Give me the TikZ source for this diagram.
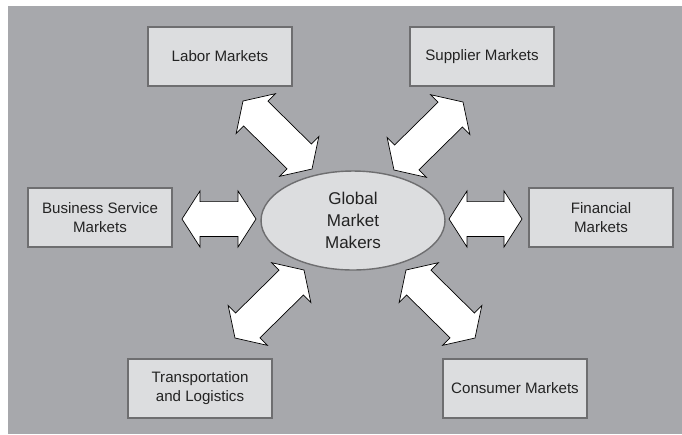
\documentclass[tikz,border=0pt]{standalone}
\usepackage{fontspec}
\setmainfont{Liberation Sans}
\usetikzlibrary{calc,shapes.geometric}
\definecolor{bggray}{RGB}{167,168,172}
\definecolor{boxgray}{RGB}{220,221,223}
\definecolor{edgegray}{RGB}{110,110,112}
\definecolor{txtgray}{RGB}{35,35,35}
\newcommand{\arrhead}{10.2pt}
\newcommand{\arrwing}{15.9pt}
\newcommand{\arrshaft}{9.9pt}
\newcommand{\dblarrow}[2]{%
  \draw[blockarrow] (#1)
    -- ($(#1)!\arrhead!(#2)!\arrwing!90:(#2)$)
    -- ($(#1)!\arrhead!(#2)!\arrshaft!90:(#2)$)
    -- ($(#2)!\arrhead!(#1)!\arrshaft!-90:(#1)$)
    -- ($(#2)!\arrhead!(#1)!\arrwing!-90:(#1)$)
    -- (#2)
    -- ($(#2)!\arrhead!(#1)!\arrwing!90:(#1)$)
    -- ($(#2)!\arrhead!(#1)!\arrshaft!90:(#1)$)
    -- ($(#1)!\arrhead!(#2)!\arrshaft!-90:(#2)$)
    -- ($(#1)!\arrhead!(#2)!\arrwing!-90:(#2)$)
    -- cycle;}

\begin{document}
\begin{tikzpicture}[x=0.02cm,y=-0.02cm,
    mktbox/.style={draw=edgegray, line width=0.8pt, fill=boxgray, text=txtgray,
      minimum width=2.88cm, minimum height=1.18cm, align=center,
      font=\fontsize{8.6}{10.8}\selectfont},
    hub/.style={ellipse, draw=edgegray, line width=0.8pt, fill=boxgray, text=txtgray,
      minimum width=3.68cm, minimum height=1.98cm, inner sep=0pt, align=center,
      font=\fontsize{9.7}{12.5}\selectfont},
    blockarrow/.style={draw=black, line width=0.4pt, fill=white, line join=miter}]
  \useasboundingbox (0,0) rectangle (682,434);
  \fill[bggray] (8,6) rectangle (682,434);

  \node[mktbox] (labor) at (220,56.5) {Labor Markets};
  \node[mktbox] (supplier) at (482,56.5) {Supplier Markets};
  \node[mktbox] (business) at (100,217.5) {Business Service\\Markets};
  \node[mktbox] (financial) at (601,217.5) {Financial\\Markets};
  \node[mktbox] (transport) at (200,388.5) {Transportation\\and Logistics};
  \node[mktbox] (consumer) at (515,388.5) {Consumer Markets};
  \node[hub] (gmm) at (353,220.5) {Global\\Market\\Makers};

  \coordinate (lab-a) at (243,101);  \coordinate (lab-b) at (312,169);
  \coordinate (sup-a) at (463,102);  \coordinate (sup-b) at (394,170);
  \coordinate (bus-a) at (182,219);  \coordinate (bus-b) at (256,219);
  \coordinate (fin-a) at (522,219);  \coordinate (fin-b) at (449,219);
  \coordinate (trn-a) at (235,338);  \coordinate (trn-b) at (304,270);
  \coordinate (con-a) at (475,338);  \coordinate (con-b) at (406,270);

  \dblarrow{lab-a}{lab-b}
  \dblarrow{sup-a}{sup-b}
  \dblarrow{bus-a}{bus-b}
  \dblarrow{fin-a}{fin-b}
  \dblarrow{trn-a}{trn-b}
  \dblarrow{con-a}{con-b}
\end{tikzpicture}
\end{document}
